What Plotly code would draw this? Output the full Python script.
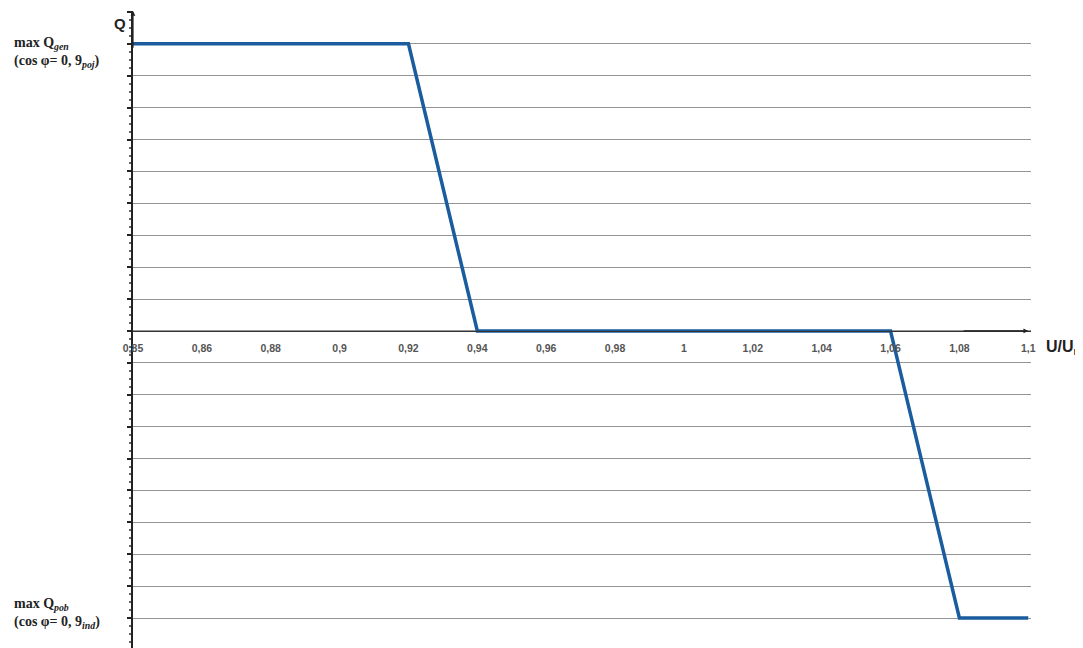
import plotly.graph_objects as go

# Data
u_labels = ["0,85", "0,86", "0,88", "0,9", "0,92", "0,94", "0,96", "0,98",
            "1", "1,02", "1,04", "1,06", "1,08", "1,1"]
q_values = [9, 9, 9, 9, 9, 0, 0, 0, 0, 0, 0, 0, -9, -9]

y_min, y_max = -9.94, 10.03
x_max = 13.04
zero_pos = -y_min / (y_max - y_min)

fig = go.Figure()
fig.add_trace(go.Scatter(
    x=list(range(len(u_labels))), y=q_values, mode="lines",
    line=dict(color="#1a5c9e", width=3.5), hoverinfo="skip",
))

fig.update_layout(
    width=1083, height=648,
    margin=dict(l=125, r=60, t=3, b=8),
    paper_bgcolor="white", plot_bgcolor="white",
    showlegend=False,
    xaxis=dict(
        range=[0, x_max], tickmode="array",
        tickvals=list(range(len(u_labels))), ticktext=u_labels,
        showgrid=False, zeroline=False,
        showline=True, linecolor="#333", linewidth=1.2,
        anchor="free", position=zero_pos,
        ticks="", ticklabelstandoff=7,
        tickfont=dict(family="Liberation Sans, Arial", size=10.5, color="#555", weight="bold"),
    ),
    yaxis=dict(
        range=[y_min, y_max], tickmode="linear", tick0=0, dtick=1,
        showticklabels=False, showgrid=True, gridcolor="#949494", gridwidth=1,
        zeroline=False, showline=True, linecolor="#222", linewidth=1.8,
        ticks="outside", ticklen=4, tickcolor="#222", tickwidth=1.5,
        minor=dict(ticks="outside", ticklen=2, dtick=0.25, tickcolor="#666", showgrid=False),
    ),
)

# axis arrows
fig.add_annotation(x=0, y=y_max, ax=0, ay=y_max - 1.2, xref="x", yref="y",
                   axref="x", ayref="y", text="", showarrow=True,
                   arrowhead=2, arrowsize=0.8, arrowwidth=1.2, arrowcolor="#222")
fig.add_annotation(x=x_max - 0.04, y=0, ax=x_max - 1, ay=0, xref="x", yref="y",
                   axref="x", ayref="y", text="", showarrow=True,
                   arrowhead=2, arrowsize=0.8, arrowwidth=1.2, arrowcolor="#222")

# axis titles
fig.add_annotation(x=-0.006, y=1.0, xref="paper", yref="paper", text="<b>Q</b>",
                   showarrow=False, xanchor="right", yanchor="top", yshift=-2,
                   font=dict(family="Liberation Sans, Arial", size=15, color="#222"))
fig.add_annotation(x=1.014, y=0, xref="paper", yref="y",
                   text="<b>U/U<sub>n</sub></b>", showarrow=False,
                   xanchor="left", yanchor="top", yshift=-5,
                   font=dict(family="Liberation Sans, Arial", size=16, color="#222"))

# extreme labels
lab_font = dict(family="Liberation Serif, Times New Roman", size=14, color="#222")
fig.add_annotation(x=-0.135, y=9, xref="paper", yref="y",
                   text="<b>max Q<sub><i>gen</i></sub></b><br><b>(cos φ= 0, 9<sub><i>poj</i></sub>)</b>",
                   showarrow=False, xanchor="left", yanchor="top", align="left",
                   yshift=11, font=lab_font)
fig.add_annotation(x=-0.135, y=-9, xref="paper", yref="y",
                   text="<b>max Q<sub><i>pob</i></sub></b><br><b>(cos φ= 0, 9<sub><i>ind</i></sub>)</b>",
                   showarrow=False, xanchor="left", yanchor="top", align="left",
                   yshift=24, font=lab_font)

fig.write_html("out.html")
